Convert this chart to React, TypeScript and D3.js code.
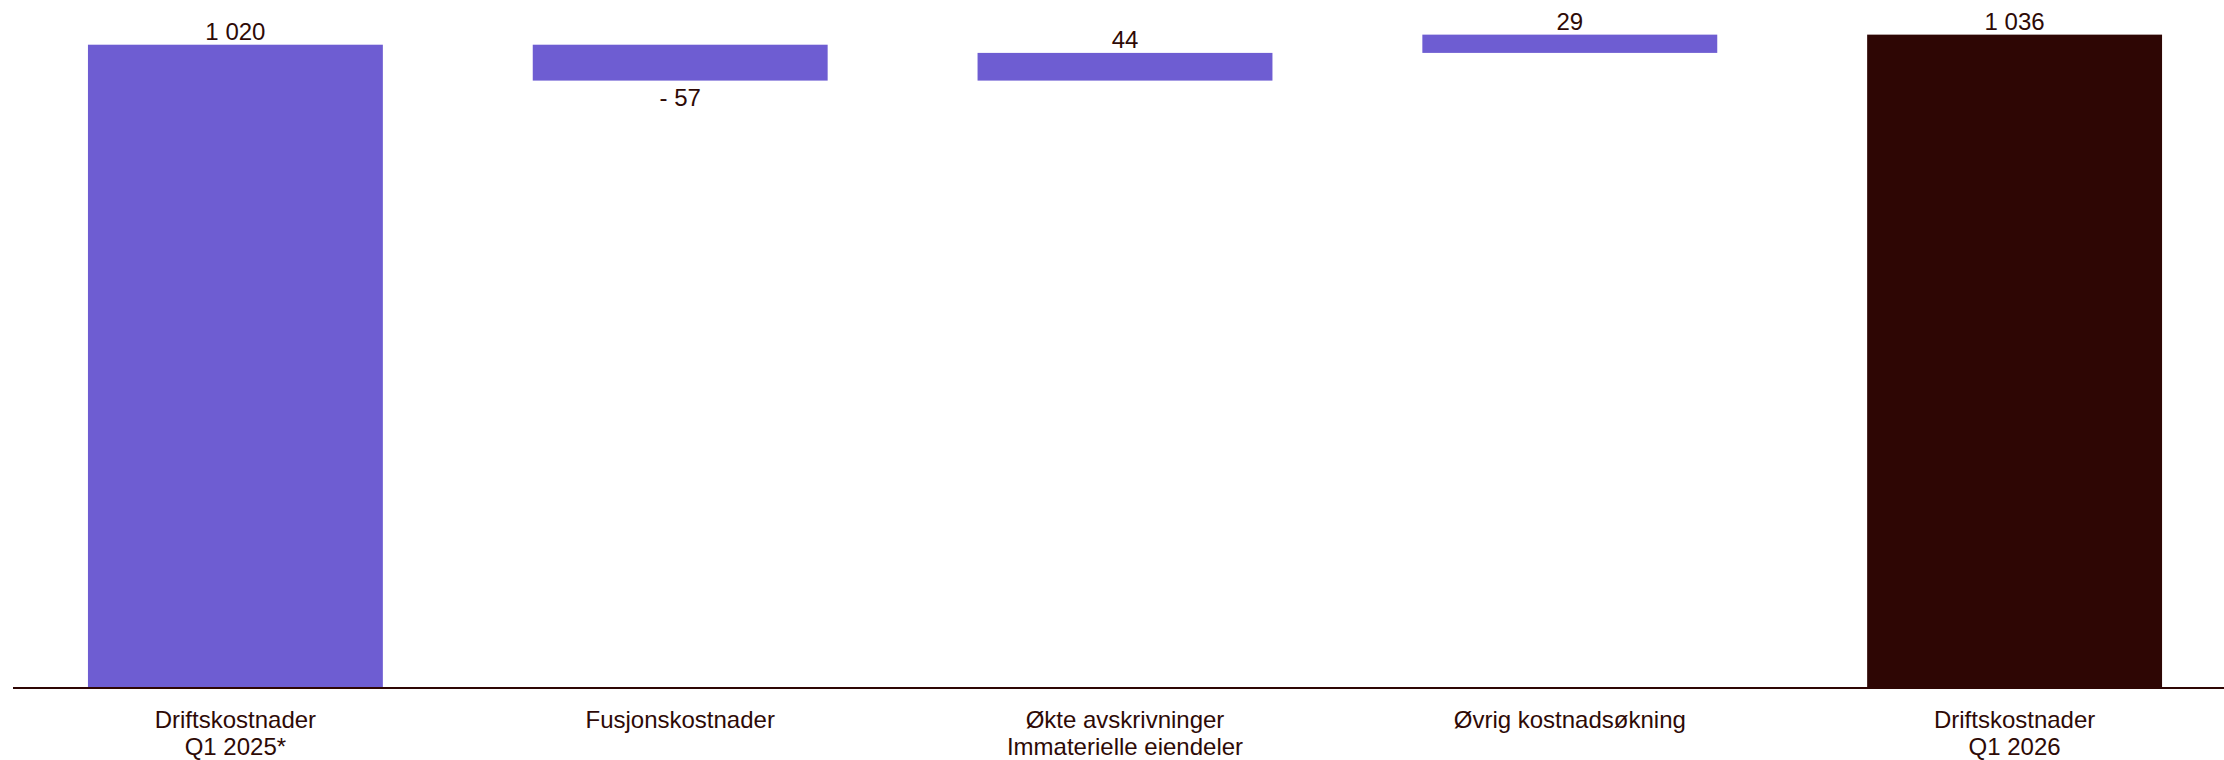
import React from "react";
import * as d3 from "d3";

// waterfall: start total, changes, end total
const categories = [
  ["Driftskostnader", "Q1 2025*"],
  ["Fusjonskostnader"],
  ["Økte avskrivninger", "Immaterielle eiendeler"],
  ["Øvrig kostnadsøkning"],
  ["Driftskostnader", "Q1 2026"],
];
const values = [1020, -57, 44, 29, 1036];
const kinds = ["total", "delta", "delta", "delta", "total"];

const PURPLE = "#6E5DD2";
const DARK = "#2E0604";
const TEXT = "#2E0A06";
const FONT = "'Liberation Sans', Arial, sans-serif";

const locale = d3.formatLocale({ decimal: ",", thousands: "\u00a0", grouping: [3], currency: ["", " kr"] });
const fmt = locale.format(",d");
const label = (v: number) => (v < 0 ? "- " + fmt(-v) : fmt(v));

export default function App() {
  const width = 2224;
  const height = 760;
  const baseY = 687;

  const x = d3
    .scaleBand<number>()
    .domain(values.map((_, i) => i))
    .range([13, 2237])
    .paddingInner(0.337)
    .paddingOuter(0.1685);

  const y = d3.scaleLinear().domain([0, 1091]).range([baseY, 0]);

  // running totals for the floating bars
  let run = 0;
  const bars = values.map((v, i) => {
    let lo: number, hi: number;
    if (kinds[i] === "total") {
      lo = 0;
      hi = v;
      run = v;
    } else {
      const next = run + v;
      lo = Math.min(run, next);
      hi = Math.max(run, next);
      run = next;
    }
    return { i, v, lo, hi, kind: kinds[i] };
  });

  return (
    <svg
      width={width}
      height={height}
      style={{ position: "absolute", left: 0, top: 0, display: "block", background: "#fff" }}
      fontFamily={FONT}
    >
      {bars.map((b) => {
        const x0 = x(b.i)!;
        const bw = x.bandwidth();
        const cx = x0 + bw / 2;
        const top = y(b.hi);
        const bottom = y(b.lo);
        return (
          <g key={b.i}>
            <rect
              x={x0}
              y={top}
              width={bw}
              height={bottom - top}
              fill={b.i === values.length - 1 ? DARK : PURPLE}
            />
            <text
              x={cx}
              y={b.v < 0 ? bottom + 25 : top - 4.5}
              textAnchor="middle"
              fontSize={24}
              fill={TEXT}
            >
              {label(b.v)}
            </text>
          </g>
        );
      })}
      <line x1={13} x2={width} y1={baseY + 1} y2={baseY + 1} stroke={DARK} strokeWidth={2} />
      {categories.map((lines, i) => (
        <text
          key={i}
          x={x(i)! + x.bandwidth() / 2}
          y={baseY + 41}
          textAnchor="middle"
          fontSize={24}
          fill={TEXT}
        >
          {lines.map((t, j) => (
            <tspan key={j} x={x(i)! + x.bandwidth() / 2} dy={j === 0 ? 0 : 27}>
              {t}
            </tspan>
          ))}
        </text>
      ))}
    </svg>
  );
}
